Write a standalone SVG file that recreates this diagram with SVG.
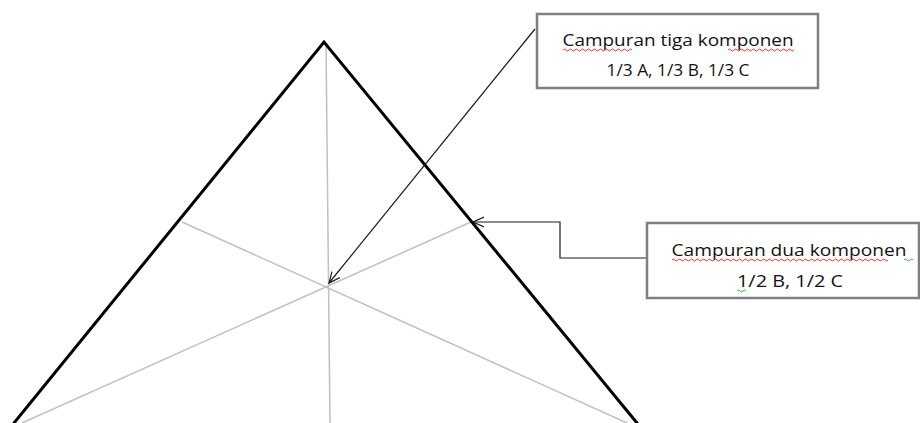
<svg xmlns="http://www.w3.org/2000/svg" width="920" height="423" viewBox="0 0 920 423">
  <style>
    .edge { stroke: #000; stroke-width: 3; fill: none; stroke-linecap: round; }
    .guide { stroke: #c0c0c0; stroke-width: 1.5; fill: none; }
    .lead { stroke: #1a1a1a; stroke-width: 1.2; fill: none; }
    .box { fill: #fff; stroke: #7f7f7f; stroke-width: 2.5; }
    .label { font-family: "Open Sans", "Liberation Sans", sans-serif; font-size: 15.5px; fill: #111; text-anchor: middle; }
    .spell { stroke: #e02020; stroke-width: 0.9; fill: none; }
    .gram { stroke: #30a030; stroke-width: 0.9; fill: none; }
  </style>
  <defs>
    <marker id="open" viewBox="0 0 12 12" refX="11" refY="6" markerWidth="12" markerHeight="12" markerUnits="userSpaceOnUse" orient="auto">
      <path d="M0,1 L11,6 L0,11" fill="none" stroke="#1a1a1a" stroke-width="1.2"/>
    </marker>
  </defs>

  <rect width="920" height="423" fill="#fff"/>

  <!-- triangle with its medians -->
  <g id="triangle">
    <line class="guide" x1="326" y1="44" x2="330" y2="423"/>
    <line class="guide" x1="182" y1="222" x2="627" y2="423"/>
    <line class="guide" x1="471" y1="222" x2="22" y2="423"/>
    <path class="edge" d="M14,423 L324,42 L637,423"/>
  </g>

  <!-- leader lines -->
  <g id="connectors">
    <line class="lead" x1="535" y1="29" x2="329" y2="283" marker-end="url(#open)"/>
    <polyline class="lead" points="647,258 560,258 560,222 473,222" marker-end="url(#open)"/>
  </g>

  <g id="node-three">
    <rect class="box" x="537" y="14" width="281" height="74"/>
    <text class="label" x="678" y="46" textLength="231" lengthAdjust="spacingAndGlyphs">Campuran tiga komponen</text>
    <text class="label" x="678" y="76" textLength="143" lengthAdjust="spacingAndGlyphs">1/3 A, 1/3 B, 1/3 C</text>
    <path class="spell" d="M563,50 q1.5,-2 3,0 t3,0 t3,0 t3,0 t3,0 t3,0 t3,0 t3,0 t3,0 t3,0 t3,0 t3,0 t3,0 t3,0 t3,0 t3,0 t3,0 t3,0 t3,0 t3,0 t3,0 t3,0 t3,0"/>
    <path class="spell" d="M728,50 q1.5,-2 3,0 t3,0 t3,0 t3,0 t3,0 t3,0 t3,0 t3,0 t3,0 t3,0 t3,0 t3,0 t3,0 t3,0 t3,0 t3,0 t3,0 t3,0 t3,0 t3,0 t3,0 t3,0"/>
  </g>

  <g id="node-two">
    <rect class="box" x="647" y="223" width="272" height="75"/>
    <text class="label" x="789" y="256" textLength="235" lengthAdjust="spacingAndGlyphs">Campuran dua komponen</text>
    <text class="label" x="790" y="287" textLength="106" lengthAdjust="spacingAndGlyphs">1/2 B, 1/2 C</text>
    <path class="spell" d="M672,260 q1.5,-2 3,0 t3,0 t3,0 t3,0 t3,0 t3,0 t3,0 t3,0 t3,0 t3,0 t3,0 t3,0 t3,0 t3,0 t3,0 t3,0 t3,0 t3,0 t3,0 t3,0 t3,0 t3,0 t3,0 t3,0 t3,0 t3,0 t3,0 t3,0 t3,0 t3,0 t3,0 t3,0 t3,0 t3,0 t3,0 t3,0 t3,0 t3,0 t3,0 t3,0 t3,0 t3,0 t3,0 t3,0 t3,0 t3,0 t3,0 t3,0 t3,0 t3,0 t3,0 t3,0 t3,0 t3,0 t3,0 t3,0 t3,0 t3,0 t3,0 t3,0 t3,0 t3,0 t3,0 t3,0 t3,0 t3,0 t3,0 t3,0 t3,0 t3,0 t3,0 t3,0"/>
    <path class="gram" d="M904,260 q1.5,-2 3,0 t3,0 t3,0"/>
    <path class="gram" d="M737,291 q1.5,-2 3,0 t3,0 t3,0"/>
  </g>
</svg>
